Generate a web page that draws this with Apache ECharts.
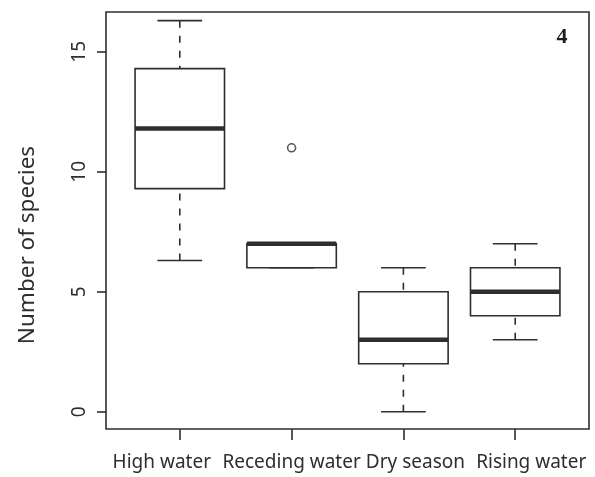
<!DOCTYPE html>
<html>
<head>
<meta charset="utf-8">
<script src="https://cdn.jsdelivr.net/npm/echarts@6/dist/echarts.min.js"></script>
<style>
  html, body { margin: 0; padding: 0; background: #fff; }
  #chart { width: 595px; height: 477px; }
</style>
</head>
<body>
<div id="chart"></div>
<script>
// box statistics per season: [min, q1, median, q3, max]
const categories = ['High water', 'Receding water', 'Dry season', 'Rising water'];
const lowWhisker = [6.3, 6, 0, 3];
const lowerQuartile = [9.3, 6, 2, 4];
const medians = [11.8, 7, 3, 5];
const upperQuartile = [14.3, 7, 5, 6];
const highWhisker = [16.3, 7, 6, 7];
const outliers = [[2, 11]];
const yTicks = [0, 5, 10, 15];

const ink = '#2e2e2e';
const boxData = categories.map((c, i) => [i + 1, lowWhisker[i], lowerQuartile[i], medians[i], upperQuartile[i], highWhisker[i]]);

// labels in the figure sit a little off their ticks; nudge each one
const labelFont = { fontFamily: 'Noto Sans', fontSize: 19, color: ink };
const labelRich = {
  c0: Object.assign({ padding: [0, 36, 0, 0] }, labelFont),
  c1: Object.assign({ padding: [0, 0, 0, 0] }, labelFont),
  c2: Object.assign({ padding: [0, 0, 0, 24] }, labelFont),
  c3: Object.assign({ padding: [0, 0, 0, 32] }, labelFont)
};

function renderBox(params, api) {
  const x = api.value(0);
  const p = (xx, yy) => api.coord([xx, yy]);
  const lo = api.value(1), q1 = api.value(2), med = api.value(3), q3 = api.value(4), hi = api.value(5);
  const boxL = p(x - 0.4, q3), boxR = p(x + 0.4, q1);
  const line = (a, b, extra) => ({
    type: 'line',
    shape: { x1: a[0], y1: a[1], x2: b[0], y2: b[1] },
    style: Object.assign({ stroke: ink, lineWidth: 1.6 }, extra || {})
  });
  const children = [];
  // whiskers drawn from end towards box, like R
  children.push(line(p(x, hi), p(x, q3), { lineDash: [7, 8] }));
  children.push(line(p(x, lo), p(x, q1), { lineDash: [7, 8] }));
  children.push(line(p(x - 0.2, hi), p(x + 0.2, hi)));
  children.push(line(p(x - 0.2, lo), p(x + 0.2, lo)));
  children.push({
    type: 'rect',
    shape: { x: boxL[0], y: boxL[1], width: boxR[0] - boxL[0], height: boxR[1] - boxL[1] },
    style: { fill: '#fff', stroke: ink, lineWidth: 1.6 }
  });
  children.push(line(p(x - 0.4, med), p(x + 0.4, med), { lineWidth: 4.5 }));
  return { type: 'group', children: children };
}

const chart = echarts.init(document.getElementById('chart'));
chart.setOption({
  animation: false,
  grid: {
    left: 106, right: 6, top: 12, bottom: 48,
    show: true, borderColor: ink, borderWidth: 1.6, backgroundColor: 'transparent'
  },
  xAxis: {
    type: 'value',
    min: 0.34, max: 4.66,
    axisLine: { show: false, onZero: false },
    splitLine: { show: false },
    axisTick: {
      show: true, customValues: [1, 2, 3, 4], length: 11,
      lineStyle: { color: ink, width: 1.6 }
    },
    axisLabel: {
      customValues: [1, 2, 3, 4],
      formatter: v => {
        const i = Math.round(v) - 1;
        return '{c' + i + '|' + categories[i] + '}';
      },
      rich: labelRich,
      hideOverlap: false, showMinLabel: true, showMaxLabel: true,
      margin: 24, fontFamily: 'Noto Sans', fontSize: 19, color: ink
    }
  },
  yAxis: {
    type: 'value',
    min: -0.72, max: 16.66,
    axisLine: { show: false, onZero: false },
    splitLine: { show: false },
    axisTick: {
      show: true, customValues: yTicks, length: 9,
      lineStyle: { color: ink, width: 1.6 }
    },
    axisLabel: {
      customValues: yTicks,
      hideOverlap: false,
      rotate: 90, margin: 17, fontFamily: 'Noto Sans', fontSize: 19, color: ink
    }
  },
  graphic: [
    {
      type: 'text', x: 28, y: 245, rotation: Math.PI / 2,
      style: {
        text: 'Number of species', fontFamily: 'Noto Sans', fontSize: 22.5,
        fill: ink, align: 'center', verticalAlign: 'middle'
      }
    },
    {
      type: 'text', x: 562, y: 37,
      style: {
        text: '4', fontFamily: 'Liberation Serif', fontWeight: 'bold', fontSize: 22,
        fill: '#1e1e1e', align: 'center', verticalAlign: 'middle'
      }
    }
  ],
  series: [
    {
      type: 'custom',
      renderItem: renderBox,
      data: boxData,
      encode: { x: 0, y: [1, 2, 3, 4, 5] },
      z: 3
    },
    {
      type: 'scatter',
      data: outliers,
      symbol: 'circle',
      symbolSize: 8,
      itemStyle: { color: '#fff', borderColor: ink, borderWidth: 1.6 },
      z: 4
    }
  ]
});
</script>
</body>
</html>
